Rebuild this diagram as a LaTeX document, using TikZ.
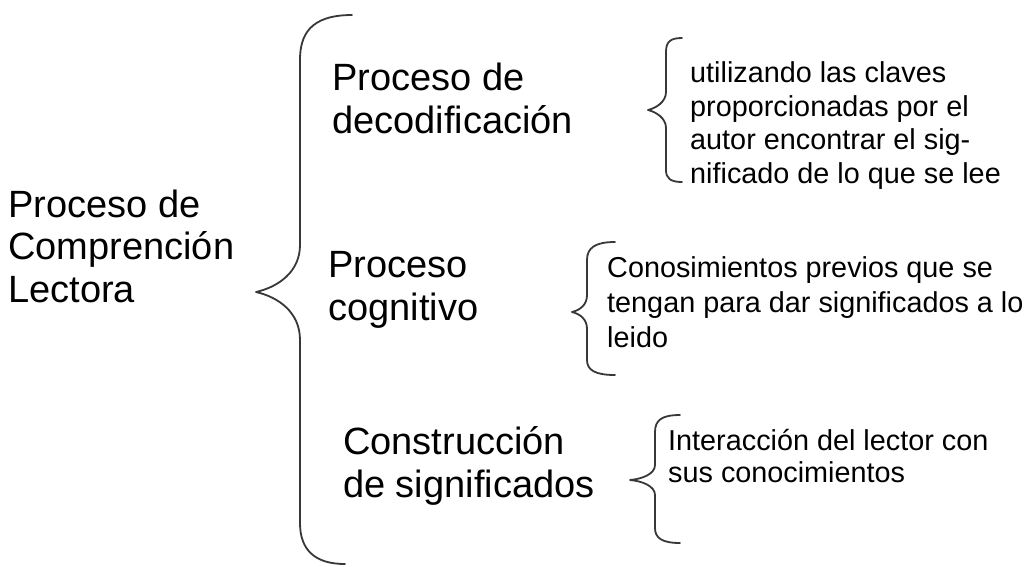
\documentclass[tikz,border=0pt]{standalone}
\usepackage{fontspec}
\setmainfont{Liberation Sans}
\begin{document}
\begin{tikzpicture}[x=1pt,y=-1pt,
  big/.style={font=\fontsize{38}{42.5}\selectfont, align=left, anchor=base west, inner sep=0pt},
  small/.style={font=\fontsize{28.8}{#1}\selectfont, align=left, anchor=base west, inner sep=0pt},
  small/.default=33.5,
  brace/.style={draw=black!78, line width=1.8pt, line join=round, line cap=round}]
\useasboundingbox (0,0) rectangle (1032,566);
\fill[white] (0,0) rectangle (1032,566);

% anchors are at the baseline of the last line
\node[big] (root) at (8,302) {Proceso de\\Comprención\\Lectora};
\node[big] (dec) at (332,133) {Proceso de\\decodificación};
\node[big] (cog) at (328,320) {Proceso\\cognitivo};
\node[big] (con) at (343,497) {Construcción\\de significados};

\node[small=33.5] (d1) at (690,183) {utilizando las claves\\proporcionadas por el\\autor encontrar el sig-\\nificado de lo que se lee};
\node[small=35] (d2) at (607,347) {Conosimientos previos que se\\tengan para dar significados a lo\\leido};
\node[small=32] (d3) at (668,482) {Interacción del lector con\\sus conocimientos};

% main brace
\draw[brace] (352,15) .. controls (310,15) and (300,35) .. (300,60) -- (300,245)
  .. controls (300,272) and (278,287) .. (256,292)
  .. controls (278,297) and (300,312) .. (300,340) -- (300,523)
  .. controls (300,550) and (315,564) .. (345,564);
% brace 1
\draw[brace] (682,38) .. controls (670,38) and (666,42) .. (666,52) -- (666,92)
  .. controls (666,102) and (656,108) .. (648,110)
  .. controls (656,112) and (666,118) .. (666,128) -- (666,170)
  .. controls (666,178) and (670,182) .. (682,182);
% brace 2
\draw[brace] (615,242) .. controls (595,242) and (587,248) .. (587,260) -- (587,295)
  .. controls (587,305) and (580,310) .. (572,312)
  .. controls (580,314) and (587,319) .. (587,329) -- (587,360)
  .. controls (587,370) and (595,375) .. (615,375);
% brace 3
\draw[brace] (680,415) .. controls (662,415) and (655,420) .. (655,432) -- (655,465)
  .. controls (655,474) and (642,479) .. (630,480)
  .. controls (642,481) and (655,486) .. (655,495) -- (655,528)
  .. controls (655,538) and (662,543) .. (680,543);
\end{tikzpicture}
\end{document}
